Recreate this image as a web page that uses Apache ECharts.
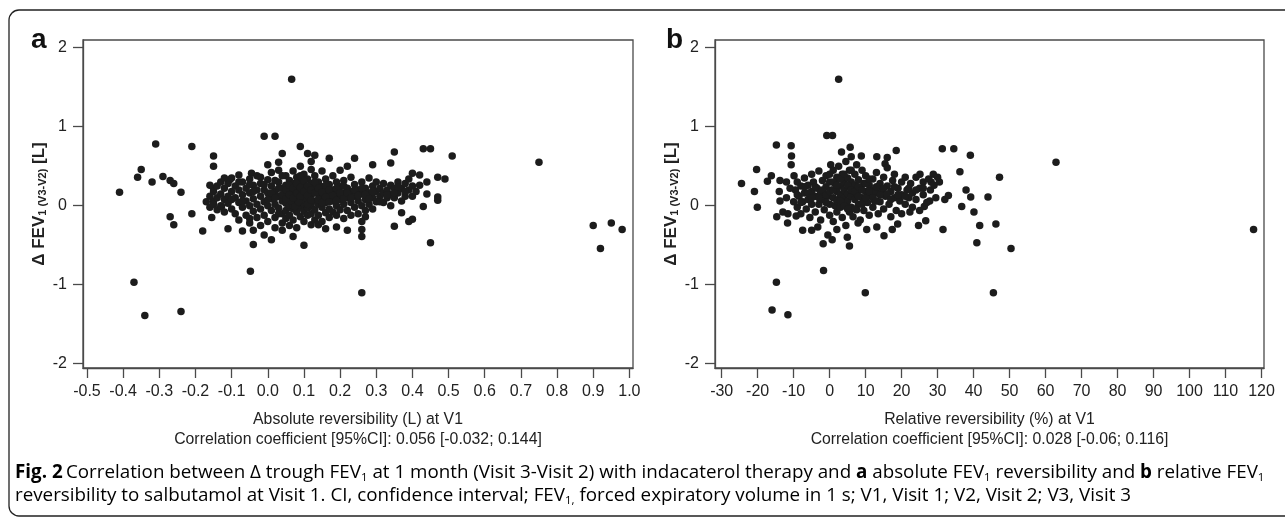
<!DOCTYPE html>
<html>
<head>
<meta charset="utf-8">
<script src="https://cdn.jsdelivr.net/npm/echarts@6/dist/echarts.min.js"></script>
<style>
html,body{margin:0;padding:0;background:#fff;}
#chart{width:1285px;height:519px;}
</style>
</head>
<body>
<div id="chart"></div>
<script>
// Panel a: absolute reversibility (L) at V1 vs Δ FEV1 (V3-V2) [L]
const absOutliers = [
 [-0.41,0.17],[-0.37,-0.97],[-0.36,0.36],[-0.35,0.46],[-0.34,-1.39],[-0.32,0.30],[-0.31,0.78],[-0.29,0.37],
 [-0.27,0.32],[-0.26,0.28],[-0.27,-0.14],[-0.26,-0.24],[-0.24,0.17],[-0.24,-1.34],[-0.21,0.75],[-0.21,-0.10],
 [-0.18,-0.32],[-0.15,0.63],[-0.15,0.50],[-0.15,0.22],[-0.15,0.06],[-0.155,-0.15],[-0.11,-0.29],[-0.07,-0.32],
 [-0.04,-0.31],[-0.04,-0.49],[-0.048,-0.83],[-0.01,-0.37],[0.01,-0.43],[0.04,-0.31],[0.07,-0.39],[0.10,-0.50],
 [-0.01,0.88],[0.02,0.88],[0.066,1.60],[0.09,0.75],[0.00,0.52],[0.03,0.55],[0.04,0.66],[0.11,0.66],[0.13,0.64],
 [0.12,0.56],[0.17,0.60],[0.22,0.50],[0.24,0.60],[0.29,0.52],[0.34,0.54],[0.35,0.68],[0.43,0.72],[0.45,0.72],
 [0.51,0.63],[0.75,0.55],[0.14,-0.24],[0.16,-0.29],[0.19,-0.27],[0.22,-0.31],[0.26,-0.39],[0.26,-0.30],
 [0.26,-1.10],[0.35,-0.26],[0.37,-0.09],[0.39,-0.20],[0.40,-0.17],[0.45,-0.47],[0.47,0.36],[0.49,0.34],
 [0.47,0.11],[0.47,0.07],[0.43,-0.01],[0.42,0.39],[0.40,0.41],[0.90,-0.25],[0.95,-0.22],[0.98,-0.30],
 [0.92,-0.54],[-0.105,0.33],[-0.08,0.39],[-0.045,0.41],[-0.128,-0.01],[-0.05,-0.16],[0.27,-0.14],[0.26,-0.20]
];
const absCluster = [
 [-0.17,0.05],[-0.16,0.12],[-0.16,-0.02],[-0.15,0.18],[-0.15,0.02],[-0.14,0.25],[-0.14,0.10],[-0.14,-0.05],
 [-0.13,0.30],[-0.13,0.15],[-0.13,0.00],[-0.12,0.22],[-0.12,0.08],[-0.12,-0.08],[-0.11,0.28],[-0.11,0.12],
 [-0.11,0.03],[-0.10,0.18],[-0.10,-0.04],[-0.10,0.35],
 [-0.09,0.25],[-0.09,0.10],[-0.09,-0.10],[-0.08,0.20],[-0.08,0.04],[-0.08,-0.18],[-0.07,0.30],[-0.07,0.14],
 [-0.07,-0.02],[-0.06,0.22],[-0.06,0.06],[-0.06,-0.12],[-0.05,0.34],[-0.05,0.16],[-0.05,0.00],[-0.05,-0.22],
 [-0.04,0.26],[-0.04,0.09],[-0.04,-0.07],[-0.03,0.20],[-0.03,0.02],[-0.03,-0.15],[-0.03,0.38],
 [-0.02,0.28],[-0.02,0.12],[-0.02,-0.04],[-0.02,-0.25],[-0.01,0.20],[-0.01,0.05],[-0.01,-0.12],[0.00,0.33],
 [0.00,0.16],[0.00,0.00],[0.00,-0.20],[0.01,0.25],[0.01,0.09],[0.01,-0.06],[0.01,0.42],[0.02,0.18],[0.02,0.02],
 [0.02,-0.15],[0.02,-0.28],[0.03,0.30],[0.03,0.12],[0.03,-0.03],[0.03,0.45],[0.04,0.22],[0.04,0.06],
 [0.04,-0.10],[0.04,-0.22],
 [0.05,0.38],[0.05,0.26],[0.05,0.14],[0.05,0.03],[0.05,-0.06],[0.05,-0.16],[0.06,0.32],[0.06,0.20],[0.06,0.08],
 [0.06,-0.02],[0.06,-0.12],[0.06,-0.25],[0.07,0.44],[0.07,0.28],[0.07,0.15],[0.07,0.04],[0.07,-0.04],
 [0.07,-0.18],[0.08,0.36],[0.08,0.22],[0.08,0.10],[0.08,0.00],[0.08,-0.08],[0.08,-0.28],[0.09,0.50],
 [0.09,0.30],[0.09,0.17],[0.09,0.06],[0.09,-0.02],[0.09,-0.14],[0.10,0.40],[0.10,0.25],[0.10,0.12],
 [0.10,0.02],[0.10,-0.07],[0.10,-0.20],[0.11,0.34],[0.11,0.19],[0.11,0.08],[0.11,-0.03],[0.11,-0.12],
 [0.12,0.46],[0.12,0.28],[0.12,0.14],[0.12,0.00],[0.12,-0.10],[0.12,-0.24],
 [0.06,0.01],[0.07,0.00],[0.08,0.03],[0.065,0.06],[0.075,-0.01],[0.085,0.05],
 [0.13,0.38],[0.13,0.22],[0.13,0.06],[0.13,-0.05],[0.13,-0.18],[0.14,0.30],[0.14,0.15],[0.14,0.02],
 [0.14,-0.12],[0.15,0.44],[0.15,0.24],[0.15,0.10],[0.15,-0.02],[0.15,-0.20],[0.16,0.34],[0.16,0.18],
 [0.16,0.04],[0.16,-0.09],[0.17,0.27],[0.17,0.12],[0.17,-0.04],[0.17,-0.15],[0.18,0.38],[0.18,0.20],
 [0.18,0.06],[0.18,-0.08],[0.19,0.30],[0.19,0.14],[0.19,0.00],[0.19,-0.12],[0.20,0.24],[0.20,0.08],
 [0.20,-0.05],[0.20,0.45],
 [0.21,0.32],[0.21,0.16],[0.21,0.02],[0.21,-0.16],[0.22,0.22],[0.22,0.10],[0.22,-0.06],[0.23,0.36],
 [0.23,0.18],[0.23,0.04],[0.23,-0.12],[0.24,0.27],[0.24,0.12],[0.24,-0.02],[0.25,0.20],[0.25,0.06],
 [0.25,-0.10],[0.26,0.30],[0.26,0.15],[0.26,0.00],[0.27,0.22],[0.27,0.08],[0.27,-0.06],[0.28,0.35],
 [0.28,0.16],[0.28,0.02],[0.29,0.25],[0.29,0.10],[0.29,-0.04],[0.30,0.18],[0.30,0.30],[0.30,0.05],
 [0.31,0.22],[0.31,0.12],[0.32,0.28],[0.32,0.16],[0.32,0.04],[0.33,0.20],[0.33,0.10],[0.34,0.26],
 [0.34,0.14],[0.34,0.00],[0.35,0.22],[0.35,0.10],[0.36,0.30],[0.36,0.16],[0.37,0.22],[0.37,0.06],
 [0.38,0.28],[0.38,0.12],[0.39,0.20],[0.39,0.34],[0.40,0.25],[0.40,0.12],
 [-0.16,0.26],[-0.12,0.35],[-0.10,0.08],[-0.08,0.30],[-0.07,0.06],[-0.05,0.27],[-0.04,0.18],[-0.02,0.36],
 [-0.01,0.27],[0.00,0.08],[0.01,0.16],[0.02,0.32],[0.02,0.10],[0.03,0.22],[0.03,-0.10],[0.04,0.14],
 [0.04,0.38],[0.05,0.20],[0.05,0.09],[0.06,0.14],[0.06,0.26],[0.07,0.22],[0.07,0.10],[0.08,0.16],
 [0.08,0.28],[0.09,0.12],[0.09,0.23],[0.09,0.38],[0.10,0.18],[0.10,0.31],[0.11,0.13],[0.11,0.25],
 [0.11,0.02],[0.12,0.20],[0.12,0.07],[0.13,0.16],[0.13,0.30],[0.14,0.08],[0.14,0.22],[0.15,0.17],
 [0.15,0.04],[0.16,0.11],[0.16,0.26],[0.17,0.20],[0.17,0.05],[0.18,0.13],[0.19,0.22],[0.19,0.07],
 [0.20,0.16],[0.21,0.09],[0.21,0.25],[0.22,0.16],[0.23,0.10],[0.24,0.20],[0.25,0.13],[0.26,0.22],
 [0.27,0.14],[0.28,0.09],[0.29,0.18],[0.31,0.05],[0.33,0.14],[0.35,0.16],[0.36,0.24],[0.38,0.18],
 [0.41,0.18],[0.42,0.26],[0.44,0.15],[0.44,0.30]
];

// Panel b: relative reversibility (%) at V1 vs Δ FEV1 (V3-V2) [L]
const relOutliers = [
 [2.5,1.60],[-0.8,0.89],[0.8,0.89],[-14.8,0.77],[-10.7,0.76],[-10.6,0.63],[-10.7,0.52],[-9.9,0.38],
 [-24.5,0.28],[-20.3,0.46],[-20.9,0.18],[-20.1,-0.02],[-17.3,0.31],[-16.2,0.38],[-13.8,0.32],[-14.0,0.18],
 [-13.8,0.06],[-14.7,-0.14],[-13.0,-0.08],[-11.7,-0.22],[-11.6,-0.10],[-9.3,-0.13],[-7.5,-0.31],[-5.0,-0.31],
 [-3.3,-0.27],[-1.8,-0.48],[0.7,-0.43],[2.0,-0.30],[4.9,-0.40],[5.5,-0.51],[-0.5,-0.37],[7.9,-0.22],
 [10.3,-0.30],[13.1,-0.27],[15.1,-0.38],[17.4,-0.30],[18.9,-0.23],[22.3,-0.08],[24.7,-0.25],[26.7,-0.19],
 [26.3,-0.01],[27.8,0.06],[31.5,-0.30],[32.0,0.08],[33.0,0.13],[31.3,0.72],[34.5,0.72],[39.1,0.64],
 [36.2,0.43],[37.9,0.20],[39.2,0.11],[36.7,-0.01],[40.1,-0.08],[41.7,-0.25],[40.9,-0.47],[44.0,0.11],
 [46.2,-0.23],[47.2,0.36],[50.4,-0.54],[62.9,0.55],[117.8,-0.30],[18.5,0.70],[16.0,0.61],[13.1,0.62],
 [15.4,0.53],[5.7,0.74],[3.3,0.68],[8.8,0.63],[0.3,0.52],[28.8,0.40],[28.2,0.30],[25.1,0.40],
 [-14.8,-0.97],[-16.0,-1.32],[-11.6,-1.38],[-1.7,-0.82],[9.9,-1.10],[45.5,-1.10]
];
const relCluster = [
 [-10,0.05],[-9.5,0.20],[-9,0.30],[-9,-0.02],[-8.5,0.12],[-8,0.25],[-8,-0.10],[-7.5,0.05],[-7,0.35],
 [-7,0.16],[-6.5,-0.04],[-6,0.26],[-6,0.08],[-5.5,-0.15],[-5,0.40],[-5,0.18],[-5,0.02],
 [-4.5,0.30],[-4,0.12],[-4,-0.08],[-3.5,0.22],[-3,0.44],[-3,0.02],[-2.5,0.16],[-2.5,-0.18],[-2,0.32],
 [-2,0.08],[-1.5,-0.05],[-1,0.24],[-1,0.38],[-0.5,0.12],[0,0.02],[0,0.30],[0,-0.12],[0.5,0.20],
 [1,0.45],[1,0.10],[1,-0.20],[1.5,0.28],[1.5,0.00],[2,0.18],[2,0.36],[2,-0.08],[2.5,0.08],[2.5,0.50],
 [3,0.25],[3,0.14],[3,-0.02],[3.5,0.40],[3.5,0.05],[3.5,-0.15],[4,0.30],[4,0.20],[4,0.10],[4.5,0.56],
 [4.5,0.00],[4.5,-0.25],[5,0.35],[5,0.15],[5,0.06],[5.5,0.45],[5.5,0.24],[5.5,-0.08],[6,0.62],[6,0.12],
 [6,0.30],[6,-0.02],
 [6.5,0.20],[6.5,-0.14],[7,0.40],[7,0.08],[7,0.26],[7.5,0.52],[7.5,0.15],[7.5,-0.05],[8,0.33],[8,0.02],
 [8.5,0.22],[8.5,-0.18],[9,0.45],[9,0.10],[9.5,0.28],[9.5,-0.06],[10,0.18],[10,0.38],[10.5,0.04],
 [11,0.26],[11,-0.12],[11.5,0.12],[12,0.34],[12,0.20],[12,-0.02],
 [12.5,0.06],[13,0.42],[13,0.16],[13.5,-0.10],[14,0.28],[14,0.05],[14.5,0.20],[15,0.36],[15,-0.04],
 [15.5,0.12],[16,0.25],[16,0.48],[16.5,0.02],[17,0.18],[17,-0.14],[17.5,0.32],[18,0.10],[18,0.40],
 [18.5,-0.06],[19,0.22],[19.5,0.06],[20,0.30],[20,0.14],[20,-0.10],
 [21,0.36],[21,0.02],[21.5,0.20],[22,0.10],[22.5,0.28],[23,-0.02],[23,0.16],[24,0.36],[24,0.08],
 [25,0.22],[25,-0.06],[26,0.30],[26,0.14],[27,0.04],[27.5,0.34],[28,0.20],[29,0.26],[29.5,0.10],
 [30,0.36],[30.5,0.30],
 [-9,0.14],[-8,0.04],[-7,0.24],[-6,0.16],[-5,0.10],[-4,0.24],[-3,0.10],[-2,0.20],[-1,0.14],[-1,0.04],
 [0,0.18],[0,0.40],[1,0.30],[1,0.20],[2,0.26],[2,0.06],[3,0.34],[3,0.06],[4,0.00],[4,0.40],[5,0.26],
 [5,-0.04],[6,0.20],[6,0.45],[7,0.18],[7,-0.04],[8,0.24],[8,0.12],[9,0.20],[9,0.02],[10,0.28],[10,0.10],
 [11,0.18],[11,0.34],[12,0.10],[13,0.24],[13,0.06],[14,0.14],[15,0.22],[16,0.15],[17,0.08],[18,0.24],
 [19,0.14],[21,0.12],[22,0.22],[24,0.20],[26,0.22],[-11,0.22],[-12,0.10],[-12,0.30]
];

const xTicksA = [-0.5,-0.4,-0.3,-0.2,-0.1,0.0,0.1,0.2,0.3,0.4,0.5,0.6,0.7,0.8,0.9,1.0];
const xTicksB = [-30,-20,-10,0,10,20,30,40,50,60,70,80,90,100,110,120];
const yTicks = [-2,-1,0,1,2];

const xTitleA = 'Absolute reversibility (L) at V1\nCorrelation coefficient [95%CI]: 0.056 [-0.032; 0.144]';
const xTitleB = 'Relative reversibility (%) at V1\nCorrelation coefficient [95%CI]: 0.028 [-0.06; 0.116]';
const yTitle = '{b|Δ FEV}{s|1 (V3-V2)}{b| [L]}';

const FONT = "'Liberation Sans', Arial, sans-serif";
const CAPFONT = "'Open Sans', 'Noto Sans', sans-serif";
const AXC = '#4a4a4a';
const TXT = '#222';

function xAxisCfg(idx, min, max, ticks, title, fmt) {
  return {
    type: 'value', gridIndex: idx, min: min, max: max,
    axisLine: { show: true, onZero: false, lineStyle: { color: AXC, width: 1.3 } },
    axisTick: { show: true, length: 10, customValues: ticks, lineStyle: { color: AXC, width: 1.3 } },
    axisLabel: { customValues: ticks, formatter: fmt, margin: 16, color: TXT, fontSize: 16, fontFamily: FONT },
    splitLine: { show: false },
    name: title, nameLocation: 'middle', nameGap: 42,
    nameTextStyle: { color: TXT, fontSize: 15.8, fontFamily: FONT, lineHeight: 20 }
  };
}
function yAxisCfg(idx) {
  return {
    type: 'value', gridIndex: idx, min: -2.054, max: 2.098,
    axisLine: { show: true, onZero: false, lineStyle: { color: AXC, width: 1.3 } },
    axisTick: { show: true, length: 10, customValues: yTicks, lineStyle: { color: AXC, width: 1.3 } },
    axisLabel: { customValues: yTicks, formatter: v => String(Math.round(v)), margin: 16, color: TXT, fontSize: 16, fontFamily: FONT },
    splitLine: { show: false },
    name: yTitle, nameLocation: 'middle', nameGap: 34, nameRotate: 90,
    nameTextStyle: {
      rich: {
        b: { fontSize: 17, fontWeight: 'bold', fontFamily: FONT, color: TXT, lineHeight: 20 },
        s: { fontSize: 11, fontWeight: 'bold', fontFamily: FONT, color: TXT, lineHeight: 11, verticalAlign: 'bottom' }
      }
    }
  };
}
function scatter(xi, data) {
  return {
    type: 'scatter', xAxisIndex: xi, yAxisIndex: xi, data: data, symbolSize: 7.5,
    itemStyle: { color: '#1c1c1c', opacity: 1 }, silent: true
  };
}

const capRich = {
  n: { fontSize: 18.8, fontFamily: CAPFONT, color: '#222', lineHeight: 23 },
  b: { fontSize: 18.8, fontFamily: CAPFONT, fontWeight: 'bold', color: '#222', lineHeight: 23 },
  s: { fontSize: 11.5, fontFamily: CAPFONT, color: '#222', lineHeight: 12, verticalAlign: 'bottom' }
};
const captionLine1 = '{b|Fig. 2} {n|Correlation between Δ trough FEV}{s|1}{n| at 1 month (Visit 3-Visit 2) with indacaterol therapy and }{b|a}{n| absolute FEV}{s|1}{n| reversibility and }{b|b}{n| relative FEV}{s|1}';
const captionLine2 = '{n|reversibility to salbutamol at Visit 1. CI, confidence interval; FEV}{s|1,}{n| forced expiratory volume in 1 s; V1, Visit 1; V2, Visit 2; V3, Visit 3}';

const chart = echarts.init(document.getElementById('chart'), null, { renderer: 'canvas' });
chart.setOption({
  animation: false,
  backgroundColor: '#fff',
  grid: [
    { left: 83, top: 40, width: 550, height: 328, show: true, borderColor: AXC, borderWidth: 1.3, backgroundColor: 'transparent' },
    { left: 715, top: 40, width: 549, height: 328, show: true, borderColor: AXC, borderWidth: 1.3, backgroundColor: 'transparent' }
  ],
  xAxis: [
    xAxisCfg(0, -0.511, 1.010, xTicksA, xTitleA, v => v.toFixed(1)),
    xAxisCfg(1, -31.86, 120.7, xTicksB, xTitleB, v => String(Math.round(v)))
  ],
  yAxis: [ yAxisCfg(0), yAxisCfg(1) ],
  series: [
    scatter(0, absOutliers.concat(absCluster)),
    scatter(1, relOutliers.concat(relCluster))
  ],
  graphic: [
    { type: 'rect', shape: { x: 9, y: 10, width: 1300, height: 506, r: 10 }, style: { fill: 'none', stroke: '#222', lineWidth: 1.3 }, silent: true, z: -1 },
    { type: 'text', left: 31, top: 26, style: { text: 'a', fontSize: 28, fontWeight: 'bold', fontFamily: FONT, fill: '#111' } },
    { type: 'text', left: 666, top: 26, style: { text: 'b', fontSize: 28, fontWeight: 'bold', fontFamily: FONT, fill: '#111' } },
    { type: 'text', left: 15, top: 463, style: { text: captionLine1, rich: capRich } },
    { type: 'text', left: 15, top: 486, style: { text: captionLine2, rich: capRich } }
  ]
});
</script>
</body>
</html>
